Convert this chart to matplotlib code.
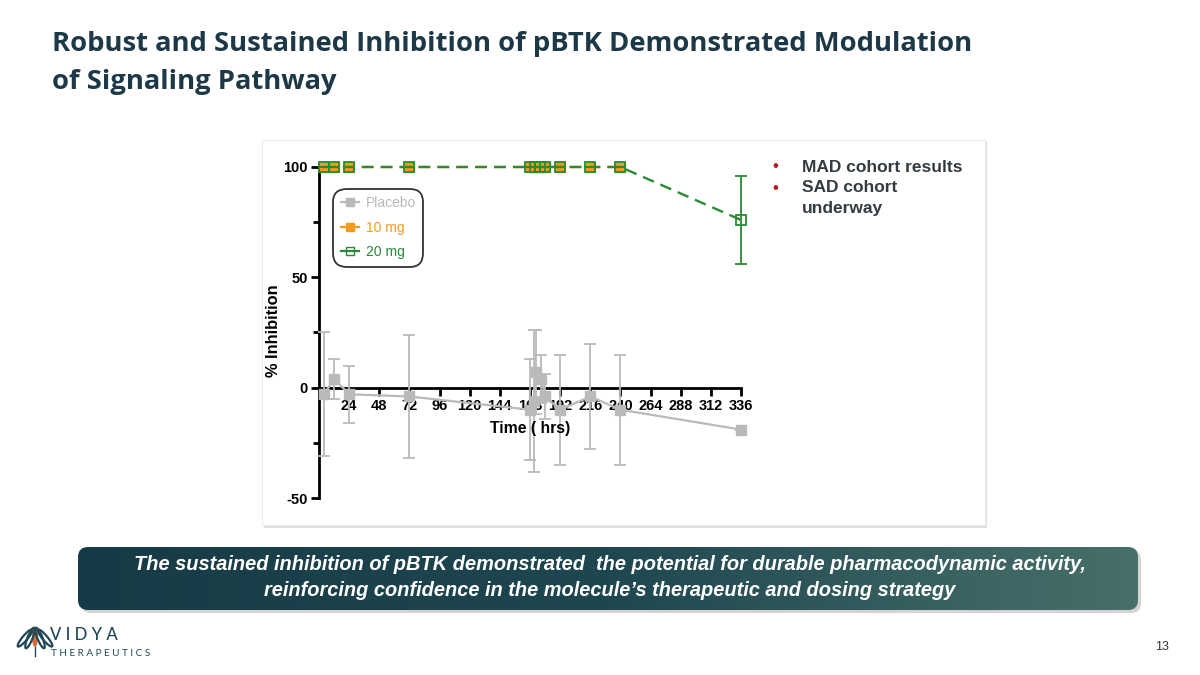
import numpy as np
import matplotlib
matplotlib.use("Agg")
import matplotlib.pyplot as plt
from matplotlib.patches import FancyBboxPatch, Rectangle, Ellipse
from matplotlib.lines import Line2D
from matplotlib.colors import LinearSegmentedColormap

plt.rcParams["axes.unicode_minus"] = False

# ---------------- data ----------------
placebo_t = [4, 12, 24, 72, 168, 171, 173, 177, 180, 192, 216, 240, 336]
placebo_v = [-3, 4, -3, -4, -10, -6, 7, 4, -4, -10, -4, -10, -19]
placebo_sd = [28, 9, 13, 28, 23, 32, 19, 11, 10, 25, 24, 25, 0]

mg10_t = [4, 12, 24, 72, 168, 172, 176, 180, 192, 216, 240]
mg10_v = [100, 100, 100, 100, 100, 100, 100, 100, 100, 100, 100]

mg20_t = [4, 12, 24, 72, 168, 172, 176, 180, 192, 216, 240, 336]
mg20_v = [100, 100, 100, 100, 100, 100, 100, 100, 100, 100, 100, 76]
mg20_sd = [0, 0, 0, 0, 0, 0, 0, 0, 0, 0, 0, 20]

x_ticks = [24, 48, 72, 96, 120, 144, 168, 192, 216, 240, 264, 288, 312, 336]
y_ticks = [-50, 0, 50, 100]

title_lines = ["Robust and Sustained Inhibition of pBTK Demonstrated Modulation",
               "of Signaling Pathway"]
bullets = ["MAD cohort results", "SAD cohort", "underway"]
banner_lines = ["The sustained inhibition of pBTK demonstrated  the potential for durable pharmacodynamic activity,",
                "reinforcing confidence in the molecule\u2019s therapeutic and dosing strategy"]

GRAY = "#bababa"
ORANGE = "#f59b1c"
GREEN = "#2a8a36"
TITLE_C = "#1d3847"

W, H = 1200, 675
fig = plt.figure(figsize=(12, 6.75), dpi=100)
fig.patch.set_facecolor("white")

# background / decoration axes in pixel coords
bg = fig.add_axes([0, 0, 1, 1])
bg.set_xlim(0, W)
bg.set_ylim(H, 0)
bg.axis("off")
bg.set_zorder(0)

# chart panel with shadow
bg.add_patch(Rectangle((264, 142), 723, 386, facecolor="#d0d0d0", edgecolor="none", alpha=0.7))
bg.add_patch(Rectangle((262, 140), 723, 385, facecolor="white", edgecolor="#ececec", lw=0.8))

# banner with shadow and gradient
bg.add_patch(FancyBboxPatch((81, 550), 1060, 63, boxstyle="round,pad=0,rounding_size=10",
                            facecolor="#c8c8c8", edgecolor="none", alpha=0.8))
banner = FancyBboxPatch((78, 547), 1060, 63, boxstyle="round,pad=0,rounding_size=10",
                        facecolor="none", edgecolor="none")
bg.add_patch(banner)
grad = np.linspace(0, 1, 256)[None, :]
cmap = LinearSegmentedColormap.from_list("b", ["#173b46", "#1f4750", "#47706b"])
im = bg.imshow(grad, extent=(78, 1138, 610, 547), cmap=cmap, aspect="auto", zorder=1)
im.set_clip_path(banner)
bg.set_xlim(0, W)
bg.set_ylim(H, 0)

for i, line in enumerate(banner_lines):
    bg.text(610, 565 + i * 26, line, ha="center", va="center", color="white",
            fontsize=14.4, fontweight="bold", fontstyle="italic", family="Liberation Sans", zorder=3)

# title
for i, line in enumerate(title_lines):
    bg.text(52, 44 + i * 38, line, ha="left", va="center", color=TITLE_C,
            fontsize=19.7, fontweight="bold", family="Open Sans")

# bullets
for yy in (167, 188):
    bg.text(775, yy, "\u2022", color="#c0141b", fontsize=12, ha="center", va="center",
            family="Liberation Sans")
for i, b in enumerate(bullets):
    bg.text(802, 167 + i * 21, b, color="#333b40", fontsize=12.5, fontweight="bold",
            ha="left", va="center", family="Liberation Sans")

# logo
bg.add_patch(Ellipse((35, 637), 6, 20, facecolor="#d9683a", edgecolor="none"))
for dx, ang in [(-5, 22), (5, -22), (-10, 40), (10, -40)]:
    bg.add_patch(Ellipse((35 + dx, 638), 5, 22, angle=ang, facecolor="none", edgecolor="#1f4a55", lw=1.6))
bg.plot([35, 35], [647, 656], color="#1f4a55", lw=1)
bg.text(50, 635, "V I D Y A", color="#1f4a55", fontsize=12, ha="left", va="center",
        family="Lato", fontweight="medium")
bg.text(51, 653, "T H E R A P E U T I C S", color="#1f4a55", fontsize=7.2, ha="left", va="center",
        family="Lato")
bg.text(1162, 647, "13", color="#333333", fontsize=9, ha="center", va="center", family="Liberation Sans")

# ---------------- chart ----------------
ax = fig.add_axes([319 / W, 1 - 498 / H, (741 - 319) / W, (498 - 167) / H])
ax.set_zorder(2)
ax.patch.set_alpha(0)
ax.set_xlim(0, 336)
ax.set_ylim(-50, 100)

ax.errorbar(placebo_t, placebo_v, yerr=placebo_sd, color=GRAY, lw=1.6, marker="s", ms=7,
            mfc=GRAY, mec=GRAY, ecolor=GRAY, elinewidth=1.3, capsize=4, capthick=1.3,
            clip_on=False, zorder=3)
ax.plot(mg10_t, mg10_v, color=ORANGE, lw=1.7, ls=(0, (5, 3)), marker="s", ms=7,
        mfc=ORANGE, mec=ORANGE, clip_on=False, zorder=4)
ax.errorbar(mg20_t, mg20_v, yerr=mg20_sd, color=GREEN, lw=1.7, ls=(0, (5, 3)), marker="s", ms=7,
            mfc="none", mec=GREEN, mew=1.3, ecolor=GREEN, elinewidth=1.3, capsize=4, capthick=1.3,
            clip_on=False, zorder=5)

for s in ["top", "right"]:
    ax.spines[s].set_visible(False)
ax.spines["bottom"].set_position(("data", 0))
ax.spines["left"].set_linewidth(2)
ax.spines["bottom"].set_linewidth(2)
ax.spines["bottom"].set_zorder(2.5)

ax.set_xticks(x_ticks)
ax.set_xticklabels([str(t) for t in x_ticks])
ax.set_yticks(y_ticks)
ax.set_yticklabels([str(t) for t in y_ticks])
ax.set_yticks([-25, 25, 75], minor=True)
ax.tick_params(axis="both", which="major", width=2, length=6, labelsize=10.5, pad=2)
ax.tick_params(axis="y", which="minor", width=2, length=4)
for lab in ax.get_xticklabels() + ax.get_yticklabels():
    lab.set_fontweight("bold")
    lab.set_family("Liberation Sans")

fig.text(273 / W, 1 - 331 / H, "% Inhibition", rotation=90, ha="center", va="center",
         fontsize=11.8, fontweight="bold", family="Liberation Sans")
fig.text(530 / W, 1 - 428 / H, "Time ( hrs)", ha="center", va="center",
         fontsize=11.3, fontweight="bold", family="Liberation Sans")

handles = [
    Line2D([], [], color=GRAY, lw=1.6, marker="s", ms=6, mfc=GRAY, mec=GRAY),
    Line2D([], [], color=ORANGE, lw=1.6, marker="s", ms=6, mfc=ORANGE, mec=ORANGE),
    Line2D([], [], color=GREEN, lw=1.6, marker="s", ms=6, mfc="none", mec=GREEN),
]
leg = ax.legend(handles, ["Placebo", "10 mg", "20 mg"], loc="upper left",
                bbox_to_anchor=(0.033, 0.935), frameon=True, fancybox=True,
                handlelength=1.3, handletextpad=0.5, labelspacing=0.75, borderpad=0.55,
                borderaxespad=0, prop={"family": "Liberation Sans", "size": 10})
frame = leg.get_frame()
frame.set_edgecolor("black")
frame.set_linewidth(1.3)
frame.set_boxstyle("round,pad=0,rounding_size=1.0")
for txt, c in zip(leg.get_texts(), [GRAY, ORANGE, GREEN]):
    txt.set_color(c)

fig.savefig("out.png", dpi=100, facecolor="white")
